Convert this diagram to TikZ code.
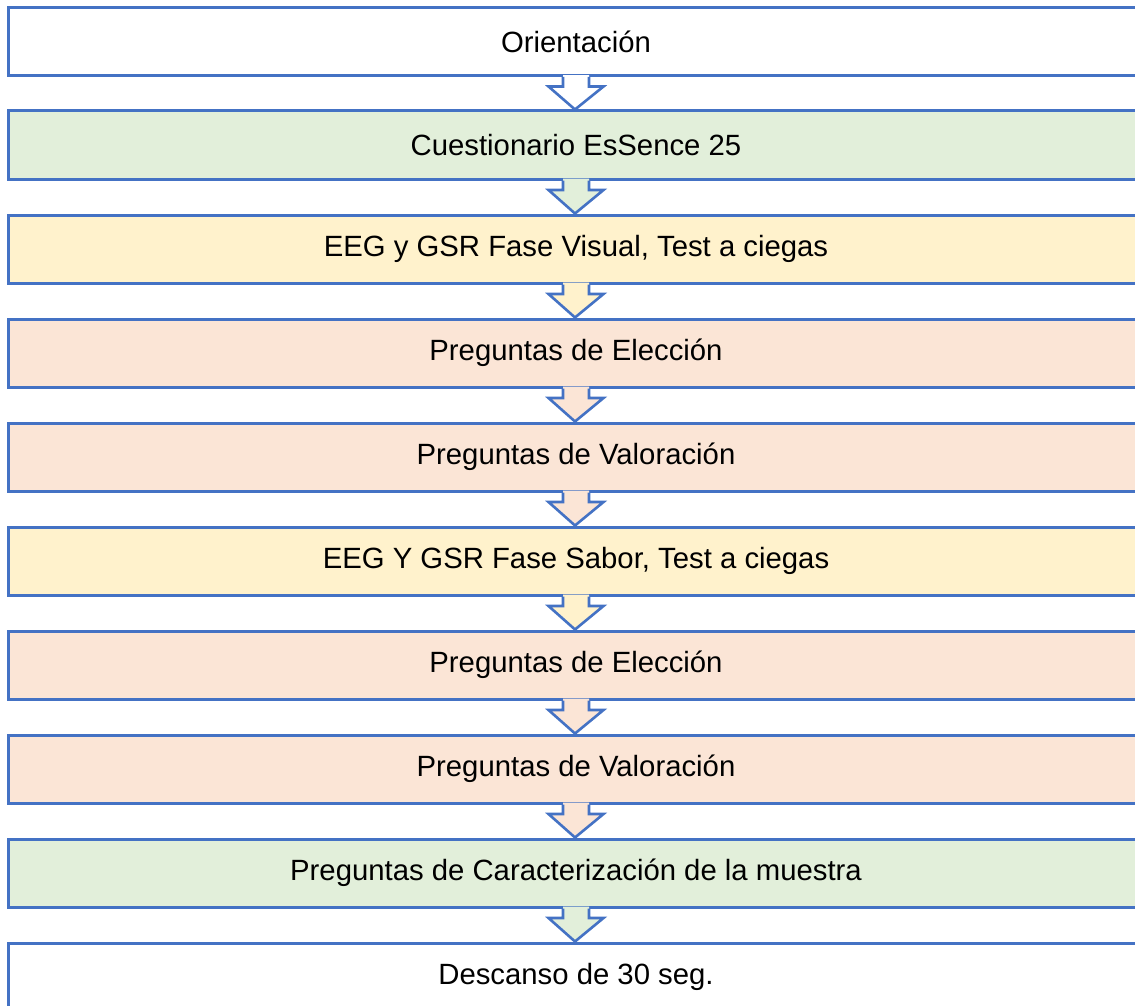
\documentclass[tikz,border=0pt]{standalone}
\usepackage{fontspec}
\setmainfont{Liberation Sans}
\definecolor{edgeblue}{HTML}{4472C4}
\definecolor{stepgreen}{HTML}{E2EFDA}
\definecolor{stepyellow}{HTML}{FFF2CC}
\definecolor{steppeach}{HTML}{FBE5D6}
\tikzset{
  stagebox/.style={draw=edgeblue, line width=3pt, fill=#1,
    minimum width=1135pt, minimum height=68pt, inner sep=0pt,
    font=\fontsize{29.3}{35}\selectfont, text=black},
  flowline/.style={draw=edgeblue, line width=2.6pt, line join=miter}
}
\begin{document}
\begin{tikzpicture}[x=1pt,y=1pt]
\clip (0,0) rectangle (1135,-1006);
\fill[white] (0,0) rectangle (1135,-1006);
% stages, top to bottom
\node[stagebox=white]       (b1)  at (576,-41.5)  {Orientación};
\node[stagebox=stepgreen]   (b2)  at (576,-145)   {Cuestionario EsSence 25};
\node[stagebox=stepyellow]  (b3)  at (576,-249)   {EEG y GSR Fase Visual, Test a ciegas};
\node[stagebox=steppeach]   (b4)  at (576,-353)   {Preguntas de Elección};
\node[stagebox=steppeach]   (b5)  at (576,-457)   {Preguntas de Valoración};
\node[stagebox=stepyellow]  (b6)  at (576,-561)   {EEG Y GSR Fase Sabor, Test a ciegas};
\node[stagebox=steppeach]   (b7)  at (576,-665)   {Preguntas de Elección};
\node[stagebox=steppeach]   (b8)  at (576,-769)   {Preguntas de Valoración};
\node[stagebox=stepgreen]   (b9)  at (576,-873)   {Preguntas de Caracterización de la muestra};
\node[stagebox=white]       (b10) at (576,-977)   {Descanso de 30 seg.};
% block arrows between stages, filled with the colour of the stage above
\foreach \i/\j/\c in {1/2/white,2/3/stepgreen,3/4/stepyellow,4/5/steppeach,
                      5/6/steppeach,6/7/stepyellow,7/8/steppeach,8/9/steppeach,
                      9/10/stepgreen}{
  \fill[\c] ([xshift=-13pt,yshift=1.8pt]b\i.south)
    -- ([xshift=-13pt,yshift=-9.5pt]b\i.south)
    -- ([xshift=-27.5pt,yshift=-9.5pt]b\i.south)
    -- ([xshift=-1pt]b\j.north)
    -- ([xshift=27.5pt,yshift=-9.5pt]b\i.south)
    -- ([xshift=13pt,yshift=-9.5pt]b\i.south)
    -- ([xshift=13pt,yshift=1.8pt]b\i.south) -- cycle;
  \draw[flowline] ([xshift=-13pt]b\i.south)
    -- ([xshift=-13pt,yshift=-9.5pt]b\i.south)
    -- ([xshift=-27.5pt,yshift=-9.5pt]b\i.south)
    -- ([xshift=-1pt]b\j.north)
    -- ([xshift=27.5pt,yshift=-9.5pt]b\i.south)
    -- ([xshift=13pt,yshift=-9.5pt]b\i.south)
    -- ([xshift=13pt]b\i.south);
}
\end{tikzpicture}
\end{document}
